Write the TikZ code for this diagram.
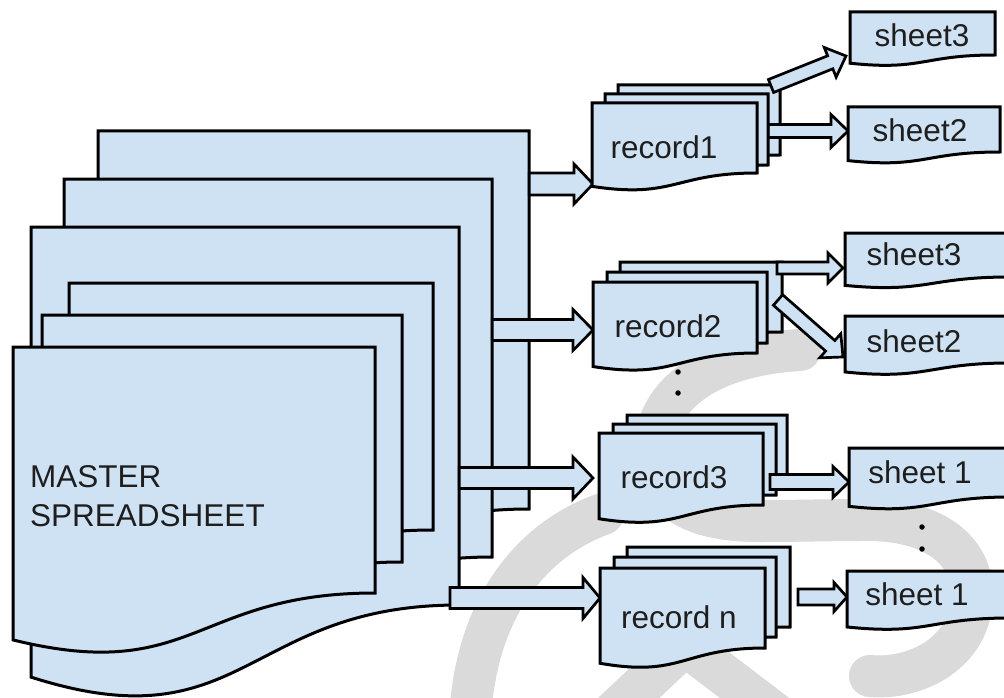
\documentclass[tikz,border=0pt]{standalone}
\usepackage{fontspec}
\setmainfont{Liberation Sans}
\usetikzlibrary{calc}
\definecolor{docfill}{HTML}{CFE2F3}
\definecolor{wmgray}{RGB}{218,218,218}
\definecolor{txtcol}{HTML}{1E1E1E}
\tikzset{
  docstyle/.style={draw=black, fill=docfill, line width=3pt},
  barrowstyle/.style={draw=black, fill=docfill, line width=2.7pt},
  lbl/.style={font=\fontsize{31.5}{37}\selectfont, text=txtcol, anchor=base, inner sep=0pt},
  wmark/.style={draw=wmgray, line width=42pt, line cap=round},
  dotmark/.style={fill=black, circle, inner sep=0pt, minimum size=5.5pt},
  docbox/.style={inner sep=0pt, draw=none}
}
\newcommand\docshape[5]{%
  \pgfmathsetmacro\docH{(#5-#3)/0.802}%
  \pgfmathsetmacro\docYL{#3+0.955*\docH}%
  \pgfmathsetmacro\docYC{#3+1.10*\docH}%
  \pgfmathsetmacro\docXM{(#2+#4)/2}%
  \draw[docstyle] (#2,#3) -- (#4,#3) -- (#4,#5) .. controls (\docXM,#5) and (\docXM,\docYC) .. (#2,\docYL) -- cycle;%
  \node[docbox, minimum width={(#4-#2)*1pt}, minimum height={(#5-#3)*1pt}] (#1) at (\docXM,{(#3+#5)/2}) {};%
}
\newcommand\blockarrow[5]{%
  \draw[barrowstyle] let \p1=($(#2)-(#1)$), \n1={atan2(\y1,\x1)} in
    ($(#1)+({\n1+90}:#3pt)$) --
    ($(#2)+({\n1+180}:#5pt)+({\n1+90}:#3pt)$) --
    ($(#2)+({\n1+180}:#5pt)+({\n1+90}:#4pt)$) --
    (#2) --
    ($(#2)+({\n1+180}:#5pt)+({\n1-90}:#4pt)$) --
    ($(#2)+({\n1+180}:#5pt)+({\n1-90}:#3pt)$) --
    ($(#1)+({\n1-90}:#3pt)$) -- cycle;%
}
\begin{document}
\begin{tikzpicture}[x=1pt, y=-1pt]
\useasboundingbox (0,0) rectangle (1004,698);
\fill[white] (0,0) rectangle (1004,698);

% watermark
\path[wmark] (800,350) .. controls (700,356) and (655,400) .. (655,450)
  .. controls (655,505) and (700,521) .. (760,521)
  .. controls (800,521) and (830,520) .. (860,520)
  .. controls (940,518) and (975,555) .. (972,600)
  .. controls (969,650) and (920,680) .. (870,676);
\path[wmark] (603,514) .. controls (530,540) and (475,610) .. (470,720);
\path[wmark, line cap=butt, line join=round] (600,725) -- (685,645) -- (790,725);

% master spreadsheet stack
\docshape{mA}{98}{131}{529}{509}
\coordinate (a1s) at (mA.east |- 0,184);
\coordinate (a1e) at (593,184);
\blockarrow{a1s}{a1e}{11}{20}{19}
\docshape{mB}{64}{179}{492}{557}
\coordinate (a2s) at (mB.east |- 0,330);
\coordinate (a2e) at (593,330);
\blockarrow{a2s}{a2e}{10.5}{20.5}{20}
\docshape{mC}{31}{227}{459}{605}
\coordinate (a3s) at (mC.east |- 0,478);
\coordinate (a3e) at (593,478);
\blockarrow{a3s}{a3e}{10.5}{21}{20}
\coordinate (a4s) at (450,598);
\coordinate (a4e) at (600,598);
\blockarrow{a4s}{a4e}{10.5}{20.5}{17}
\docshape{mD}{69}{283}{433}{530}
\docshape{mE}{42}{315}{402}{562}
\docshape{mF}{13}{347}{375}{593}
\node[lbl, anchor=base west] (mt1) at (30,487) {MASTER};
\node[lbl, anchor=base west] (mt2) at (30,526) {SPREADSHEET};

% record1
\docshape{r1c}{618}{85}{780}{155}
\coordinate (b2s) at (771,86);
\coordinate (b2e) at (846,56);
\blockarrow{b2s}{b2e}{7}{16}{17}
\coordinate (b1s) at (768,131);
\coordinate (b1e) at (848,131);
\blockarrow{b1s}{b1e}{6.5}{16.5}{17}
\docshape{r1b}{605}{94}{768}{165}
\docshape{r1a}{592}{103}{757}{173}
\node[lbl] (t1) at (664,158) {record1};

% record2
\docshape{r2c}{620}{262}{782}{332}
\coordinate (b3s) at (777,268);
\coordinate (b3e) at (843,268);
\blockarrow{b3s}{b3e}{6}{15}{15}
\coordinate (b4s) at (778,300);
\coordinate (b4e) at (843,357);
\blockarrow{b4s}{b4e}{7}{16}{17}
\docshape{r2b}{607}{272}{767}{343}
\docshape{r2a}{593}{282}{757}{353}
\node[lbl] (t2) at (668,337) {record2};
\node[dotmark] (d1) at (678,372) {};
\node[dotmark] (d2) at (678,393) {};

% record3
\docshape{r3c}{627}{415}{787}{485}
\docshape{r3b}{613}{424}{776}{495}
\docshape{r3a}{599}{433}{763}{505}
\node[lbl] (t3) at (674,488) {record3};
\coordinate (b5s) at (770,482);
\coordinate (b5e) at (849,482);
\blockarrow{b5s}{b5e}{7.5}{15.5}{16}

% record n
\docshape{rnc}{627}{547}{790}{627}
\docshape{rnb}{614}{557}{776}{637}
\docshape{rna}{600}{568}{765}{648}
\node[lbl] (tn) at (679,628) {record n};
\coordinate (b6s) at (798,597);
\coordinate (b6e) at (847,597);
\blockarrow{b6s}{b6e}{8}{14.5}{13}

% sheets
\docshape{s3a}{850}{12}{995}{55}
\node[lbl] (ts3a) at (922,47) {sheet3};
\docshape{s2a}{848}{107}{1000}{152}
\node[lbl] (ts2a) at (920,142) {sheet2};
\docshape{s3b}{845}{233}{1010}{277}
\node[lbl] (ts3b) at (914,265) {sheet3};
\docshape{s2b}{845}{316}{1010}{363}
\node[lbl] (ts2b) at (914,352) {sheet2};
\docshape{s1a}{849}{448}{1010}{497}
\node[lbl] (ts1a) at (920,483) {sheet 1};
\docshape{s1b}{847}{571}{1010}{618}
\node[lbl] (ts1b) at (917,605) {sheet 1};
\node[dotmark] (d3) at (922,527) {};
\node[dotmark] (d4) at (922,549) {};
\end{tikzpicture}
\end{document}
